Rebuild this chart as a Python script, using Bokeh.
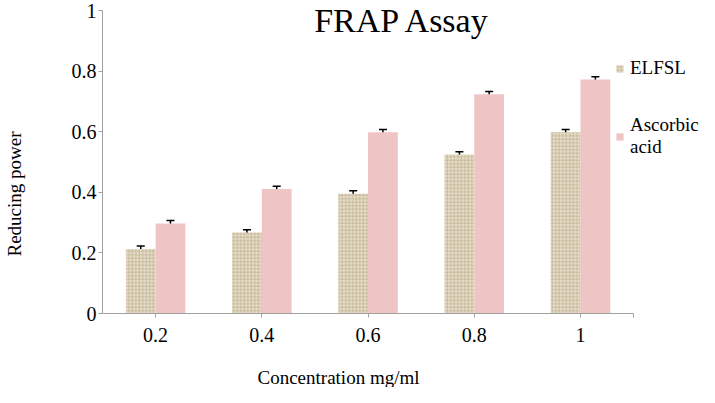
from bokeh.plotting import figure
from bokeh.models import (ColumnDataSource, Range1d, FixedTicker, Whisker, TeeHead,
                          Label, Legend, LegendItem)
from bokeh.transform import dodge
from bokeh.embed import file_html
from bokeh.resources import INLINE

# ---- data ----
categories = ["0.2", "0.4", "0.6", "0.8", "1"]
elfsl = [0.213, 0.267, 0.395, 0.525, 0.598]
ascorbic = [0.297, 0.411, 0.598, 0.724, 0.772]
elfsl_err = [0.010, 0.009, 0.010, 0.009, 0.009]
ascorbic_err = [0.010, 0.009, 0.009, 0.009, 0.009]
y_ticks = [0, 0.2, 0.4, 0.6, 0.8, 1]
y_tick_labels = ["0", "0.2", "0.4", "0.6", "0.8", "1"]
series_names = ["ELFSL", "Ascorbic\nacid"]
title_text = "FRAP Assay"
x_title = "Concentration mg/ml"
y_title = "Reducing power"

FONT = "Liberation Serif"
BEIGE = "#e7ddc6"
PINK = "#efc4c4"
AXIS = "#a0a0a0"

n = len(categories)
centers = [i + 0.5 for i in range(n)]   # category slot centres on the axis

src = ColumnDataSource(dict(
    x=centers,
    elfsl=elfsl,
    asc=ascorbic,
    e_lo=[v - e for v, e in zip(elfsl, elfsl_err)],
    e_hi=[v + e for v, e in zip(elfsl, elfsl_err)],
    a_lo=[v - e for v, e in zip(ascorbic, ascorbic_err)],
    a_hi=[v + e for v, e in zip(ascorbic, ascorbic_err)],
))

W, H = 699, 387
left = 92
frame_w = W - left
zero_px = 313          # canvas y of value 0
px_per_cat = 108.0
px_per_unit = 303.0

p = figure(width=W, height=H,
           x_range=Range1d(0, frame_w / px_per_cat),
           y_range=Range1d(-(H - zero_px) / px_per_unit, zero_px / px_per_unit),
           output_backend="svg", toolbar_location=None,
           min_border_left=left, min_border_right=0, min_border_top=0, min_border_bottom=0)
p.outline_line_color = None
p.xgrid.grid_line_color = None
p.ygrid.grid_line_color = None
p.background_fill_color = "white"

bw = 0.28
r1 = p.vbar(x=dodge("x", -bw / 2), top="elfsl", width=bw, source=src,
            fill_color=BEIGE, line_color=None, hatch_pattern="+", hatch_color="#8c7b5a",
            hatch_alpha=0.45, hatch_scale=3.5, hatch_weight=0.7)
r2 = p.vbar(x=dodge("x", bw / 2), top="asc", width=bw, source=src,
            fill_color=PINK, line_color=None)

for base, lo, hi in [(dodge("x", -bw / 2), "e_lo", "e_hi"),
                     (dodge("x", bw / 2), "a_lo", "a_hi")]:
    w = Whisker(base=base, lower=lo, upper=hi, source=src, line_color="black", line_width=1.5,
                upper_head=TeeHead(size=8, line_color="black", line_width=1.5),
                lower_head=TeeHead(size=8, line_color="black", line_width=1.5))
    p.add_layout(w)

# axes
p.yaxis.ticker = FixedTicker(ticks=y_ticks)
p.yaxis.major_label_overrides = {t: l for t, l in zip(y_ticks, y_tick_labels)}
p.yaxis.bounds = (0, 1)
x_ticks = centers + [float(n)]
p.xaxis.ticker = FixedTicker(ticks=x_ticks)
p.xaxis.major_label_overrides = {**{c: l for c, l in zip(centers, categories)}, float(n): ""}
p.xaxis.bounds = (0, n)
p.xaxis.fixed_location = 0
for ax in (p.xaxis, p.yaxis):
    ax.axis_line_color = AXIS
    ax.major_tick_line_color = AXIS
    ax.minor_tick_line_color = None
    ax.major_tick_in = 0
    ax.major_tick_out = 4
    ax.major_label_text_font = FONT
    ax.major_label_text_font_size = "20px"
    ax.major_label_text_color = "black"
p.xaxis.major_label_standoff = 10
p.yaxis.major_label_standoff = 2

p.yaxis.axis_label = y_title
p.yaxis.axis_label_text_font = FONT
p.yaxis.axis_label_text_font_size = "19px"
p.yaxis.axis_label_text_font_style = "normal"
p.yaxis.axis_label_text_color = "black"
p.yaxis.axis_label_standoff = 44

# x-axis title and chart title (frame covers the whole canvas right of the y axis)
p.add_layout(Label(x=247 - left, y=H - 377, x_units="screen", y_units="screen", text=x_title,
                   text_font=FONT, text_font_size="19px", text_align="left",
                   text_baseline="middle", text_color="black"))
p.add_layout(Label(x=300, y=H - 20, x_units="screen", y_units="screen", text=title_text,
                   text_font=FONT, text_font_size="34px", text_align="center",
                   text_baseline="middle", text_color="black"))

legend = Legend(items=[LegendItem(label=series_names[0], renderers=[r1]),
                       LegendItem(label=series_names[1], renderers=[r2])],
                location=(513, 229), orientation="vertical",
                glyph_width=9, glyph_height=9, label_standoff=6, spacing=35,
                padding=0, margin=0, border_line_color=None, background_fill_alpha=0,
                label_text_font=FONT, label_text_font_size="19px", label_text_color="black")
p.add_layout(legend, "center")

open("out.html", "w").write(file_html(p, INLINE))
